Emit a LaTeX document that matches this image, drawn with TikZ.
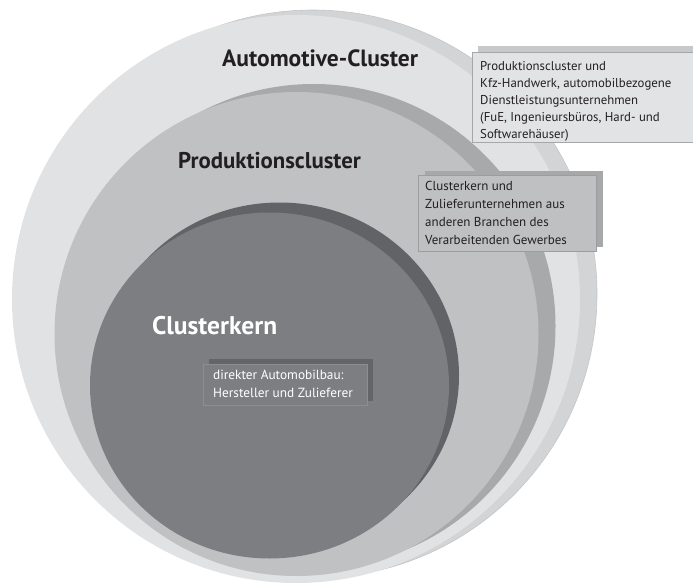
\documentclass[tikz,border=0pt]{standalone}
\usepackage{fontspec}
\setmainfont{PT Sans}
\definecolor{outerMain}{HTML}{E1E2E4}
\definecolor{outerShadow}{HTML}{D3D4D6}
\definecolor{outerEdge}{HTML}{C4C5C7}
\definecolor{prodMain}{HTML}{C0C1C3}
\definecolor{prodShadow}{HTML}{A8A9AB}
\definecolor{kernMain}{HTML}{7D7E81}
\definecolor{kernShadow}{HTML}{626366}
\definecolor{boxAfill}{HTML}{E2E3E5}
\definecolor{boxAline}{HTML}{A6A7A9}
\definecolor{boxAshadow}{HTML}{C7C8CA}
\definecolor{boxBfill}{HTML}{BFC0C2}
\definecolor{boxBline}{HTML}{9C9DA0}
\definecolor{boxBshadow}{HTML}{A7A8AA}
\definecolor{boxCfill}{HTML}{7D7E81}
\definecolor{boxCline}{HTML}{8D8E91}
\definecolor{boxCshadow}{HTML}{646568}
\definecolor{txt}{HTML}{231F20}
\tikzset{
  title/.style={anchor=base west, inner sep=0pt, font=\fontsize{23}{26}\selectfont\bfseries, text=txt},
  boxtext/.style={anchor=north west, inner sep=0pt, align=left, font=\fontsize{13}{17.5}\selectfont, text=txt},
}
\begin{document}
\begin{tikzpicture}[x=1pt,y=-1pt]
\useasboundingbox (0,0) rectangle (693,583);
\clip (0,0) rectangle (693,583);
% outer circle
\fill[outerShadow, draw=outerEdge, line width=0.6pt] (313,294) ellipse [x radius=284pt, y radius=284pt];
\fill[outerMain] (296,299) ellipse [x radius=284pt, y radius=284pt];
% production cluster
\fill[prodShadow] (313.5,326) ellipse [x radius=242pt, y radius=242pt];
\fill[prodMain] (296.5,334) ellipse [x radius=242pt, y radius=242pt];
% cluster core
\fill[kernShadow] (279.5,375.5) ellipse [x radius=179.5pt, y radius=173pt];
\fill[kernMain] (269.5,385.5) ellipse [x radius=179.5pt, y radius=173pt];
% titles
\node[title, font=\fontsize{23.5}{26}\selectfont\bfseries] (tA) at (222,67) {Automotive-Cluster};
\node[title, font=\fontsize{22.8}{26}\selectfont\bfseries] (tP) at (178,168) {Produktionscluster};
\node[title, text=white, font=\fontsize{25.5}{28}\selectfont\bfseries] (tK) at (152,334) {Clusterkern};
% box A
\fill[boxAshadow] (478,46) rectangle (699,136);
\filldraw[fill=boxAfill, draw=boxAline, line width=0.6pt] (472,52) rectangle (699,142);
\node[boxtext, font=\fontsize{12.8}{17}\selectfont] (bA) at (480,61) {Produktionscluster und\\Kfz-Handwerk, automobilbezogene\\Dienstleistungsunternehmen\\(FuE, Ingenieursbüros, Hard- und\\Softwarehäuser)};
% box B
\fill[boxBshadow] (425,171) rectangle (603,247);
\filldraw[fill=boxBfill, draw=boxBline, line width=0.6pt] (418,175) rectangle (596,251);
\node[boxtext, font=\fontsize{13}{18}\selectfont] (bB) at (425,181) {Clusterkern und\\Zulieferunternehmen aus\\anderen Branchen des\\Verarbeitenden Gewerbes};
% box C
\fill[boxCshadow] (209,359) rectangle (373,401);
\filldraw[fill=boxCfill, draw=boxCline, line width=0.6pt] (203,364) rectangle (367,405);
\node[boxtext, text=white, font=\fontsize{13.3}{18}\selectfont] (bC) at (213,369.5) {direkter Automobilbau:\\Hersteller und Zulieferer};
\end{tikzpicture}
\end{document}
